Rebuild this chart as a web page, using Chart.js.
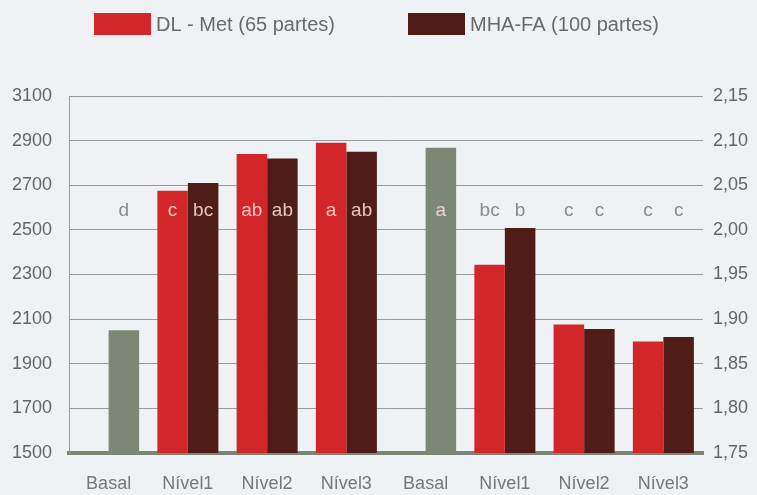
<!DOCTYPE html>
<html>
<head>
<meta charset="utf-8">
<script src="https://cdn.jsdelivr.net/npm/chart.js@4.4.0/dist/chart.umd.min.js"></script>
<style>
    html, body { margin: 0; padding: 0; background: #eef2f5; }
    #wrap { width: 757px; height: 495px; }
</style>
</head>
<body>
<div id="wrap"><canvas id="ganho"></canvas></div>
<script>
//================================================================ Data
var niveis = ['Basal', 'Nível1', 'Nível2', 'Nível3', 'Basal', 'Nível1', 'Nível2', 'Nível3'];
var series = ['DL - Met (65 partes)', 'MHA-FA (100 partes)'];

// first block -> left axis
var dlMetEsq = [null, 2675, 2840, 2890, null, null, null, null];
var mhaEsq = [2050, 2710, 2820, 2850, null, null, null, null];   // index 0 = basal (grey)

// second block -> right axis
var dlMetDir = [null, null, null, null, null, 1.961, 1.894, 1.875];
var mhaDir = [null, null, null, null, 2.092, 2.002, 1.889, 1.880]; // index 4 = basal (grey)

// significance letters
var letrasDL = ['', 'c', 'ab', 'a', '', 'bc', 'c', 'c'];
var letrasMHA = ['d', 'bc', 'ab', 'ab', 'a', 'b', 'c', 'c'];

var nivelLetras = 2585; // height (left axis units) where letters sit

//================================================================ Styles
var fonte = "'Liberation Sans', Arial, sans-serif";
var vermelho = '#d3262b';
var marrom = '#4f1c17';
var cinza = '#7c8777';

function corMha(ctx) {
    return (ctx.dataIndex === 0 || ctx.dataIndex === 4) ? cinza : marrom;
}

//================================================================ Plugins
var legendaPlugin = {
    id: 'legenda',
    afterDraw: function(chart) {
        var c = chart.ctx;
        var itens = [[series[0], vermelho, 94], [series[1], marrom, 408]];
        c.save();
        c.font = '20px ' + fonte;
        c.textBaseline = 'middle';
        for (var i in itens) {
            c.fillStyle = itens[i][1];
            c.fillRect(itens[i][2], 13, 57, 22);
            c.fillStyle = '#6a6a6a';
            c.fillText(itens[i][0], itens[i][2] + 62, 25);
        }
        c.restore();
    }
};

var letrasPlugin = {
    id: 'letras',
    afterDatasetsDraw: function(chart) {
        var c = chart.ctx;
        var yTxt = chart.scales.y.getPixelForValue(nivelLetras);
        c.save();
        c.font = '19px ' + fonte;
        c.textAlign = 'center';
        c.textBaseline = 'middle';
        for (var i = 0; i < niveis.length; i++) {
            var grupo = i < 4 ? [0, 1] : [2, 3];
            var letras = [letrasDL[i], letrasMHA[i]];
            for (var k = 0; k < 2; k++) {
                if (!letras[k]) continue;
                var bar = chart.getDatasetMeta(grupo[k]).data[i];
                var dentro = bar.y < yTxt - 10;
                c.fillStyle = dentro ? 'rgba(255, 225, 220, 0.85)' : '#8a8a8a';
                c.fillText(letras[k], bar.x, yTxt);
            }
        }
        c.restore();
    }
};

//================================================================ Chart
var ctx = document.getElementById('ganho');
var chartGanho = new Chart(ctx, {
    type: 'bar',
    data: {
        labels: niveis,
        datasets: [{
            label: series[0],
            data: dlMetEsq,
            yAxisID: 'y',
            stack: 'dl',
            backgroundColor: vermelho
        }, {
            label: series[1],
            data: mhaEsq,
            yAxisID: 'y',
            stack: 'mha',
            backgroundColor: corMha
        }, {
            label: series[0],
            data: dlMetDir,
            yAxisID: 'y1',
            stack: 'dl',
            backgroundColor: vermelho
        }, {
            label: series[1],
            data: mhaDir,
            yAxisID: 'y1',
            stack: 'mha',
            backgroundColor: corMha
        }]
    },
    options: {
        responsive: true,
        maintainAspectRatio: false,
        animation: false,
        categoryPercentage: 0.77,
        barPercentage: 1.0,
        layout: { padding: { top: 96, left: 0, right: 0, bottom: 0 } },
        plugins: {
            legend: { display: false },
            tooltip: { enabled: false }
        },
        scales: {
            x: {
                stacked: true,
                grid: { display: false },
                border: { display: true, color: '#7b8676', width: 4 },
                ticks: { color: '#777', font: { family: fonte, size: 18 }, padding: 12 },
                afterFit: function(scale) { scale.height = 42; }
            },
            y: {
                position: 'left',
                stacked: false,
                min: 1500,
                max: 3100,
                ticks: {
                    stepSize: 200,
                    color: '#666',
                    font: { family: fonte, size: 18 },
                    padding: 17,
                    callback: function(v) { return String(v); }
                },
                grid: { color: '#9a9a9a', drawTicks: false },
                border: { display: true, color: '#9a9a9a' },
                afterFit: function(scale) { scale.width = 69; }
            },
            y1: {
                position: 'right',
                stacked: false,
                min: 1.75,
                max: 2.15,
                ticks: {
                    stepSize: 0.05,
                    color: '#666',
                    font: { family: fonte, size: 18 },
                    padding: 10,
                    callback: function(v) { return v.toFixed(2).replace('.', ','); }
                },
                grid: { display: false, drawTicks: false },
                border: { display: false },
                afterFit: function(scale) { scale.width = 54; }
            }
        }
    },
    plugins: [letrasPlugin, legendaPlugin]
});
</script>
</body>
</html>
